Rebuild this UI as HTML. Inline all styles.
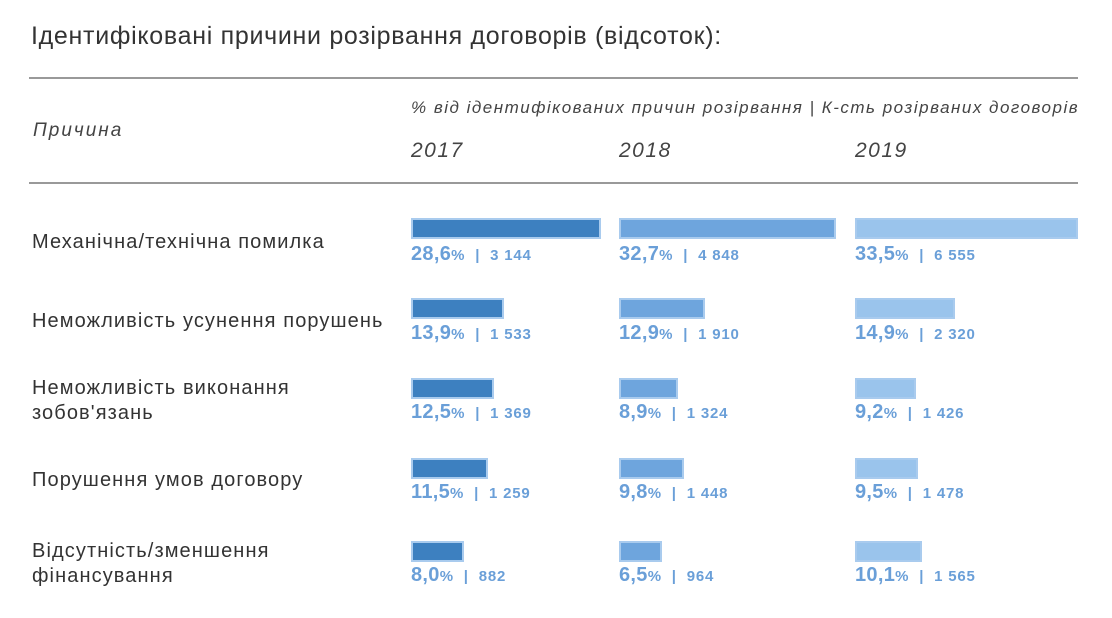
<!DOCTYPE html>
<html><head><meta charset="utf-8"><style>
body{margin:0;width:1112px;height:618px;background:#fff;position:relative;overflow:hidden;font-family:"Liberation Sans",sans-serif;}
.a{position:absolute;white-space:nowrap;}
.t{left:31px;top:22px;font-size:25px;color:#333;letter-spacing:0.7px;}
.hr{position:absolute;left:29px;width:1049px;height:2px;background:#999;}
.i{font-style:italic;color:#444;}
.lab{left:32px;font-size:20px;color:#333;line-height:25px;letter-spacing:1.1px;}
.bar{position:absolute;height:17px;border:2px solid #a9cbee;}
.c1{background:#3d80c0;}.c2{background:#6ea5dd;}.c3{background:#9ac4ec;}
.v{position:absolute;font-size:20px;font-weight:bold;color:#6a9fd8;white-space:nowrap;letter-spacing:0.3px;}
.v small{font-size:15px;font-weight:bold;letter-spacing:0.8px;}
</style></head><body>
<div class="a t">Ідентифіковані причини розірвання договорів (відсоток):</div>
<div class="hr" style="top:77px"></div>
<div class="hr" style="top:182px"></div>
<div class="a i" style="left:33px;top:120px;font-size:19px;letter-spacing:2px">Причина</div>
<div class="a i" style="left:411px;top:98px;font-size:17px;letter-spacing:1.5px">% від ідентифікованих причин розірвання | К-сть розірваних договорів</div>
<div class="a i" style="left:411px;top:139px;font-size:21px;letter-spacing:1.5px">2017</div>
<div class="a i" style="left:619px;top:139px;font-size:21px;letter-spacing:1.5px">2018</div>
<div class="a i" style="left:855px;top:139px;font-size:21px;letter-spacing:1.5px">2019</div>

<div class="a lab" style="top:230px">Механічна/технічна помилка</div>
<div class="a lab" style="top:309px">Неможливість усунення порушень</div>
<div class="a lab" style="top:376px">Неможливість виконання<br>зобов'язань</div>
<div class="a lab" style="top:468px">Порушення умов договору</div>
<div class="a lab" style="top:539px">Відсутність/зменшення<br>фінансування</div>

<div class="bar c1" style="left:411px;top:218px;width:186px"></div>
<div class="bar c2" style="left:619px;top:218px;width:213px"></div>
<div class="bar c3" style="left:855px;top:218px;width:219px"></div>
<div class="v" style="left:411px;top:243px">28,6<small>% &nbsp;| &nbsp;3 144</small></div>
<div class="v" style="left:619px;top:243px">32,7<small>% &nbsp;| &nbsp;4 848</small></div>
<div class="v" style="left:855px;top:243px">33,5<small>% &nbsp;| &nbsp;6 555</small></div>

<div class="bar c1" style="left:411px;top:298px;width:89px"></div>
<div class="bar c2" style="left:619px;top:298px;width:82px"></div>
<div class="bar c3" style="left:855px;top:298px;width:96px"></div>
<div class="v" style="left:411px;top:322px">13,9<small>% &nbsp;| &nbsp;1 533</small></div>
<div class="v" style="left:619px;top:322px">12,9<small>% &nbsp;| &nbsp;1 910</small></div>
<div class="v" style="left:855px;top:322px">14,9<small>% &nbsp;| &nbsp;2 320</small></div>

<div class="bar c1" style="left:411px;top:378px;width:79px"></div>
<div class="bar c2" style="left:619px;top:378px;width:55px"></div>
<div class="bar c3" style="left:855px;top:378px;width:57px"></div>
<div class="v" style="left:411px;top:401px">12,5<small>% &nbsp;| &nbsp;1 369</small></div>
<div class="v" style="left:619px;top:401px">8,9<small>% &nbsp;| &nbsp;1 324</small></div>
<div class="v" style="left:855px;top:401px">9,2<small>% &nbsp;| &nbsp;1 426</small></div>

<div class="bar c1" style="left:411px;top:458px;width:73px"></div>
<div class="bar c2" style="left:619px;top:458px;width:61px"></div>
<div class="bar c3" style="left:855px;top:458px;width:59px"></div>
<div class="v" style="left:411px;top:481px">11,5<small>% &nbsp;| &nbsp;1 259</small></div>
<div class="v" style="left:619px;top:481px">9,8<small>% &nbsp;| &nbsp;1 448</small></div>
<div class="v" style="left:855px;top:481px">9,5<small>% &nbsp;| &nbsp;1 478</small></div>

<div class="bar c1" style="left:411px;top:541px;width:49px"></div>
<div class="bar c2" style="left:619px;top:541px;width:39px"></div>
<div class="bar c3" style="left:855px;top:541px;width:63px"></div>
<div class="v" style="left:411px;top:564px">8,0<small>% &nbsp;| &nbsp;882</small></div>
<div class="v" style="left:619px;top:564px">6,5<small>% &nbsp;| &nbsp;964</small></div>
<div class="v" style="left:855px;top:564px">10,1<small>% &nbsp;| &nbsp;1 565</small></div>
</body></html>
